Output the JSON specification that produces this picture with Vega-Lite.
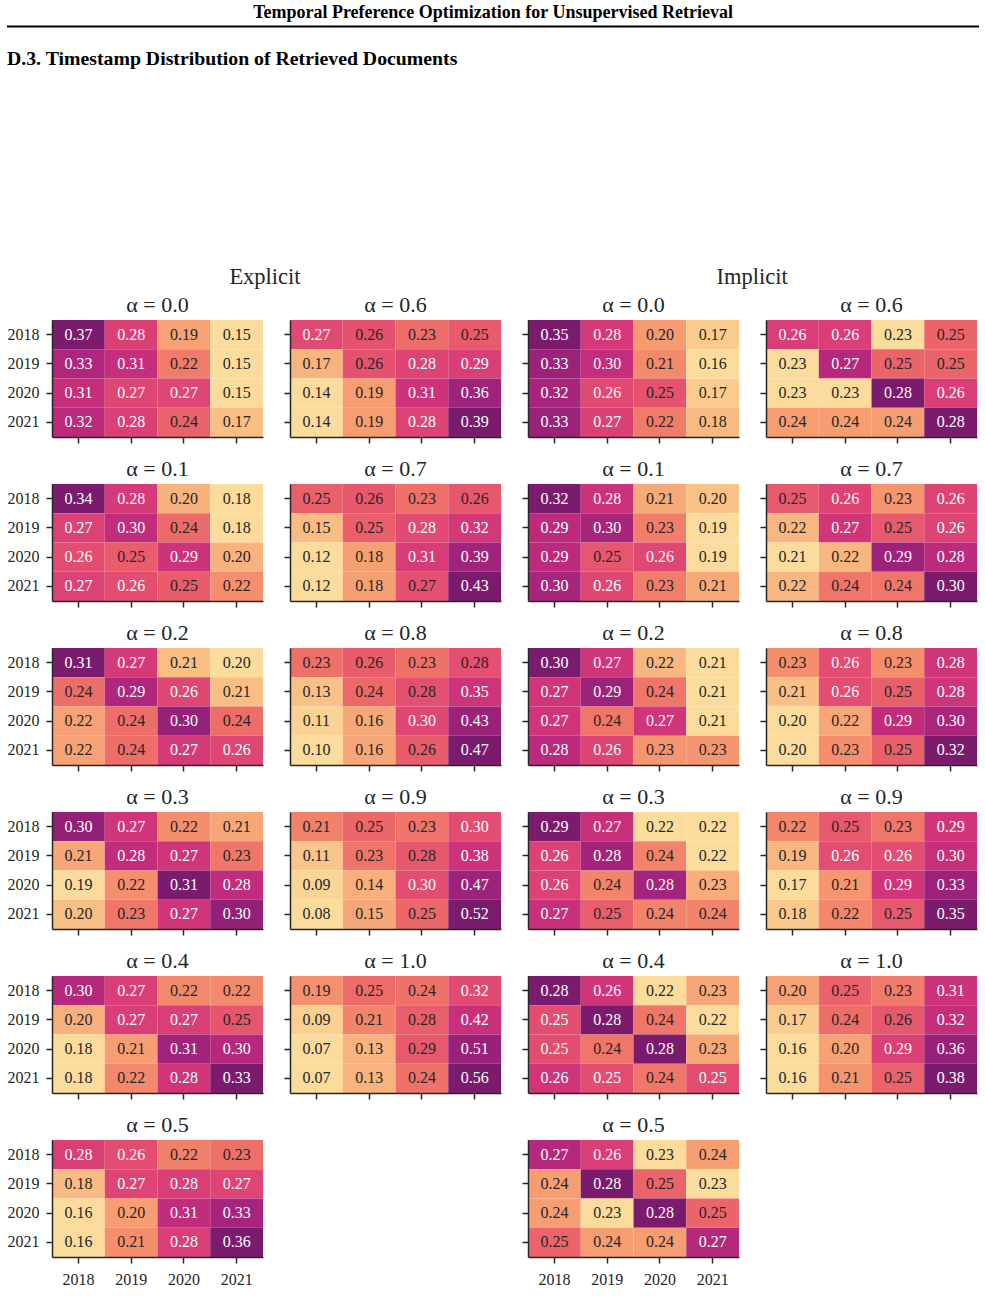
{
  "$schema": "https://vega.github.io/schema/vega-lite/v6.json",
  "padding": {"left": 6, "top": 3, "right": 7, "bottom": 0},
  "datasets": {
    "cells": [
      {"g":"E","a":"0.0","r":2018,"c":2018,"v":0.37},{"g":"E","a":"0.0","r":2018,"c":2019,"v":0.28},{"g":"E","a":"0.0","r":2018,"c":2020,"v":0.19},{"g":"E","a":"0.0","r":2018,"c":2021,"v":0.15},
      {"g":"E","a":"0.0","r":2019,"c":2018,"v":0.33},{"g":"E","a":"0.0","r":2019,"c":2019,"v":0.31},{"g":"E","a":"0.0","r":2019,"c":2020,"v":0.22},{"g":"E","a":"0.0","r":2019,"c":2021,"v":0.15},
      {"g":"E","a":"0.0","r":2020,"c":2018,"v":0.31},{"g":"E","a":"0.0","r":2020,"c":2019,"v":0.27},{"g":"E","a":"0.0","r":2020,"c":2020,"v":0.27},{"g":"E","a":"0.0","r":2020,"c":2021,"v":0.15},
      {"g":"E","a":"0.0","r":2021,"c":2018,"v":0.32},{"g":"E","a":"0.0","r":2021,"c":2019,"v":0.28},{"g":"E","a":"0.0","r":2021,"c":2020,"v":0.24},{"g":"E","a":"0.0","r":2021,"c":2021,"v":0.17},

      {"g":"E","a":"0.1","r":2018,"c":2018,"v":0.34},{"g":"E","a":"0.1","r":2018,"c":2019,"v":0.28},{"g":"E","a":"0.1","r":2018,"c":2020,"v":0.20},{"g":"E","a":"0.1","r":2018,"c":2021,"v":0.18},
      {"g":"E","a":"0.1","r":2019,"c":2018,"v":0.27},{"g":"E","a":"0.1","r":2019,"c":2019,"v":0.30},{"g":"E","a":"0.1","r":2019,"c":2020,"v":0.24},{"g":"E","a":"0.1","r":2019,"c":2021,"v":0.18},
      {"g":"E","a":"0.1","r":2020,"c":2018,"v":0.26},{"g":"E","a":"0.1","r":2020,"c":2019,"v":0.25},{"g":"E","a":"0.1","r":2020,"c":2020,"v":0.29},{"g":"E","a":"0.1","r":2020,"c":2021,"v":0.20},
      {"g":"E","a":"0.1","r":2021,"c":2018,"v":0.27},{"g":"E","a":"0.1","r":2021,"c":2019,"v":0.26},{"g":"E","a":"0.1","r":2021,"c":2020,"v":0.25},{"g":"E","a":"0.1","r":2021,"c":2021,"v":0.22},

      {"g":"E","a":"0.2","r":2018,"c":2018,"v":0.31},{"g":"E","a":"0.2","r":2018,"c":2019,"v":0.27},{"g":"E","a":"0.2","r":2018,"c":2020,"v":0.21},{"g":"E","a":"0.2","r":2018,"c":2021,"v":0.20},
      {"g":"E","a":"0.2","r":2019,"c":2018,"v":0.24},{"g":"E","a":"0.2","r":2019,"c":2019,"v":0.29},{"g":"E","a":"0.2","r":2019,"c":2020,"v":0.26},{"g":"E","a":"0.2","r":2019,"c":2021,"v":0.21},
      {"g":"E","a":"0.2","r":2020,"c":2018,"v":0.22},{"g":"E","a":"0.2","r":2020,"c":2019,"v":0.24},{"g":"E","a":"0.2","r":2020,"c":2020,"v":0.30},{"g":"E","a":"0.2","r":2020,"c":2021,"v":0.24},
      {"g":"E","a":"0.2","r":2021,"c":2018,"v":0.22},{"g":"E","a":"0.2","r":2021,"c":2019,"v":0.24},{"g":"E","a":"0.2","r":2021,"c":2020,"v":0.27},{"g":"E","a":"0.2","r":2021,"c":2021,"v":0.26},

      {"g":"E","a":"0.3","r":2018,"c":2018,"v":0.30},{"g":"E","a":"0.3","r":2018,"c":2019,"v":0.27},{"g":"E","a":"0.3","r":2018,"c":2020,"v":0.22},{"g":"E","a":"0.3","r":2018,"c":2021,"v":0.21},
      {"g":"E","a":"0.3","r":2019,"c":2018,"v":0.21},{"g":"E","a":"0.3","r":2019,"c":2019,"v":0.28},{"g":"E","a":"0.3","r":2019,"c":2020,"v":0.27},{"g":"E","a":"0.3","r":2019,"c":2021,"v":0.23},
      {"g":"E","a":"0.3","r":2020,"c":2018,"v":0.19},{"g":"E","a":"0.3","r":2020,"c":2019,"v":0.22},{"g":"E","a":"0.3","r":2020,"c":2020,"v":0.31},{"g":"E","a":"0.3","r":2020,"c":2021,"v":0.28},
      {"g":"E","a":"0.3","r":2021,"c":2018,"v":0.20},{"g":"E","a":"0.3","r":2021,"c":2019,"v":0.23},{"g":"E","a":"0.3","r":2021,"c":2020,"v":0.27},{"g":"E","a":"0.3","r":2021,"c":2021,"v":0.30},

      {"g":"E","a":"0.4","r":2018,"c":2018,"v":0.30},{"g":"E","a":"0.4","r":2018,"c":2019,"v":0.27},{"g":"E","a":"0.4","r":2018,"c":2020,"v":0.22},{"g":"E","a":"0.4","r":2018,"c":2021,"v":0.22},
      {"g":"E","a":"0.4","r":2019,"c":2018,"v":0.20},{"g":"E","a":"0.4","r":2019,"c":2019,"v":0.27},{"g":"E","a":"0.4","r":2019,"c":2020,"v":0.27},{"g":"E","a":"0.4","r":2019,"c":2021,"v":0.25},
      {"g":"E","a":"0.4","r":2020,"c":2018,"v":0.18},{"g":"E","a":"0.4","r":2020,"c":2019,"v":0.21},{"g":"E","a":"0.4","r":2020,"c":2020,"v":0.31},{"g":"E","a":"0.4","r":2020,"c":2021,"v":0.30},
      {"g":"E","a":"0.4","r":2021,"c":2018,"v":0.18},{"g":"E","a":"0.4","r":2021,"c":2019,"v":0.22},{"g":"E","a":"0.4","r":2021,"c":2020,"v":0.28},{"g":"E","a":"0.4","r":2021,"c":2021,"v":0.33},

      {"g":"E","a":"0.5","r":2018,"c":2018,"v":0.28},{"g":"E","a":"0.5","r":2018,"c":2019,"v":0.26},{"g":"E","a":"0.5","r":2018,"c":2020,"v":0.22},{"g":"E","a":"0.5","r":2018,"c":2021,"v":0.23},
      {"g":"E","a":"0.5","r":2019,"c":2018,"v":0.18},{"g":"E","a":"0.5","r":2019,"c":2019,"v":0.27},{"g":"E","a":"0.5","r":2019,"c":2020,"v":0.28},{"g":"E","a":"0.5","r":2019,"c":2021,"v":0.27},
      {"g":"E","a":"0.5","r":2020,"c":2018,"v":0.16},{"g":"E","a":"0.5","r":2020,"c":2019,"v":0.20},{"g":"E","a":"0.5","r":2020,"c":2020,"v":0.31},{"g":"E","a":"0.5","r":2020,"c":2021,"v":0.33},
      {"g":"E","a":"0.5","r":2021,"c":2018,"v":0.16},{"g":"E","a":"0.5","r":2021,"c":2019,"v":0.21},{"g":"E","a":"0.5","r":2021,"c":2020,"v":0.28},{"g":"E","a":"0.5","r":2021,"c":2021,"v":0.36},

      {"g":"E","a":"0.6","r":2018,"c":2018,"v":0.27},{"g":"E","a":"0.6","r":2018,"c":2019,"v":0.26},{"g":"E","a":"0.6","r":2018,"c":2020,"v":0.23},{"g":"E","a":"0.6","r":2018,"c":2021,"v":0.25},
      {"g":"E","a":"0.6","r":2019,"c":2018,"v":0.17},{"g":"E","a":"0.6","r":2019,"c":2019,"v":0.26},{"g":"E","a":"0.6","r":2019,"c":2020,"v":0.28},{"g":"E","a":"0.6","r":2019,"c":2021,"v":0.29},
      {"g":"E","a":"0.6","r":2020,"c":2018,"v":0.14},{"g":"E","a":"0.6","r":2020,"c":2019,"v":0.19},{"g":"E","a":"0.6","r":2020,"c":2020,"v":0.31},{"g":"E","a":"0.6","r":2020,"c":2021,"v":0.36},
      {"g":"E","a":"0.6","r":2021,"c":2018,"v":0.14},{"g":"E","a":"0.6","r":2021,"c":2019,"v":0.19},{"g":"E","a":"0.6","r":2021,"c":2020,"v":0.28},{"g":"E","a":"0.6","r":2021,"c":2021,"v":0.39},

      {"g":"E","a":"0.7","r":2018,"c":2018,"v":0.25},{"g":"E","a":"0.7","r":2018,"c":2019,"v":0.26},{"g":"E","a":"0.7","r":2018,"c":2020,"v":0.23},{"g":"E","a":"0.7","r":2018,"c":2021,"v":0.26},
      {"g":"E","a":"0.7","r":2019,"c":2018,"v":0.15},{"g":"E","a":"0.7","r":2019,"c":2019,"v":0.25},{"g":"E","a":"0.7","r":2019,"c":2020,"v":0.28},{"g":"E","a":"0.7","r":2019,"c":2021,"v":0.32},
      {"g":"E","a":"0.7","r":2020,"c":2018,"v":0.12},{"g":"E","a":"0.7","r":2020,"c":2019,"v":0.18},{"g":"E","a":"0.7","r":2020,"c":2020,"v":0.31},{"g":"E","a":"0.7","r":2020,"c":2021,"v":0.39},
      {"g":"E","a":"0.7","r":2021,"c":2018,"v":0.12},{"g":"E","a":"0.7","r":2021,"c":2019,"v":0.18},{"g":"E","a":"0.7","r":2021,"c":2020,"v":0.27},{"g":"E","a":"0.7","r":2021,"c":2021,"v":0.43},

      {"g":"E","a":"0.8","r":2018,"c":2018,"v":0.23},{"g":"E","a":"0.8","r":2018,"c":2019,"v":0.26},{"g":"E","a":"0.8","r":2018,"c":2020,"v":0.23},{"g":"E","a":"0.8","r":2018,"c":2021,"v":0.28},
      {"g":"E","a":"0.8","r":2019,"c":2018,"v":0.13},{"g":"E","a":"0.8","r":2019,"c":2019,"v":0.24},{"g":"E","a":"0.8","r":2019,"c":2020,"v":0.28},{"g":"E","a":"0.8","r":2019,"c":2021,"v":0.35},
      {"g":"E","a":"0.8","r":2020,"c":2018,"v":0.11},{"g":"E","a":"0.8","r":2020,"c":2019,"v":0.16},{"g":"E","a":"0.8","r":2020,"c":2020,"v":0.30},{"g":"E","a":"0.8","r":2020,"c":2021,"v":0.43},
      {"g":"E","a":"0.8","r":2021,"c":2018,"v":0.10},{"g":"E","a":"0.8","r":2021,"c":2019,"v":0.16},{"g":"E","a":"0.8","r":2021,"c":2020,"v":0.26},{"g":"E","a":"0.8","r":2021,"c":2021,"v":0.47},

      {"g":"E","a":"0.9","r":2018,"c":2018,"v":0.21},{"g":"E","a":"0.9","r":2018,"c":2019,"v":0.25},{"g":"E","a":"0.9","r":2018,"c":2020,"v":0.23},{"g":"E","a":"0.9","r":2018,"c":2021,"v":0.30},
      {"g":"E","a":"0.9","r":2019,"c":2018,"v":0.11},{"g":"E","a":"0.9","r":2019,"c":2019,"v":0.23},{"g":"E","a":"0.9","r":2019,"c":2020,"v":0.28},{"g":"E","a":"0.9","r":2019,"c":2021,"v":0.38},
      {"g":"E","a":"0.9","r":2020,"c":2018,"v":0.09},{"g":"E","a":"0.9","r":2020,"c":2019,"v":0.14},{"g":"E","a":"0.9","r":2020,"c":2020,"v":0.30},{"g":"E","a":"0.9","r":2020,"c":2021,"v":0.47},
      {"g":"E","a":"0.9","r":2021,"c":2018,"v":0.08},{"g":"E","a":"0.9","r":2021,"c":2019,"v":0.15},{"g":"E","a":"0.9","r":2021,"c":2020,"v":0.25},{"g":"E","a":"0.9","r":2021,"c":2021,"v":0.52},

      {"g":"E","a":"1.0","r":2018,"c":2018,"v":0.19},{"g":"E","a":"1.0","r":2018,"c":2019,"v":0.25},{"g":"E","a":"1.0","r":2018,"c":2020,"v":0.24},{"g":"E","a":"1.0","r":2018,"c":2021,"v":0.32},
      {"g":"E","a":"1.0","r":2019,"c":2018,"v":0.09},{"g":"E","a":"1.0","r":2019,"c":2019,"v":0.21},{"g":"E","a":"1.0","r":2019,"c":2020,"v":0.28},{"g":"E","a":"1.0","r":2019,"c":2021,"v":0.42},
      {"g":"E","a":"1.0","r":2020,"c":2018,"v":0.07},{"g":"E","a":"1.0","r":2020,"c":2019,"v":0.13},{"g":"E","a":"1.0","r":2020,"c":2020,"v":0.29},{"g":"E","a":"1.0","r":2020,"c":2021,"v":0.51},
      {"g":"E","a":"1.0","r":2021,"c":2018,"v":0.07},{"g":"E","a":"1.0","r":2021,"c":2019,"v":0.13},{"g":"E","a":"1.0","r":2021,"c":2020,"v":0.24},{"g":"E","a":"1.0","r":2021,"c":2021,"v":0.56},

      {"g":"I","a":"0.0","r":2018,"c":2018,"v":0.35},{"g":"I","a":"0.0","r":2018,"c":2019,"v":0.28},{"g":"I","a":"0.0","r":2018,"c":2020,"v":0.20},{"g":"I","a":"0.0","r":2018,"c":2021,"v":0.17},
      {"g":"I","a":"0.0","r":2019,"c":2018,"v":0.33},{"g":"I","a":"0.0","r":2019,"c":2019,"v":0.30},{"g":"I","a":"0.0","r":2019,"c":2020,"v":0.21},{"g":"I","a":"0.0","r":2019,"c":2021,"v":0.16},
      {"g":"I","a":"0.0","r":2020,"c":2018,"v":0.32},{"g":"I","a":"0.0","r":2020,"c":2019,"v":0.26},{"g":"I","a":"0.0","r":2020,"c":2020,"v":0.25},{"g":"I","a":"0.0","r":2020,"c":2021,"v":0.17},
      {"g":"I","a":"0.0","r":2021,"c":2018,"v":0.33},{"g":"I","a":"0.0","r":2021,"c":2019,"v":0.27},{"g":"I","a":"0.0","r":2021,"c":2020,"v":0.22},{"g":"I","a":"0.0","r":2021,"c":2021,"v":0.18},

      {"g":"I","a":"0.1","r":2018,"c":2018,"v":0.32},{"g":"I","a":"0.1","r":2018,"c":2019,"v":0.28},{"g":"I","a":"0.1","r":2018,"c":2020,"v":0.21},{"g":"I","a":"0.1","r":2018,"c":2021,"v":0.20},
      {"g":"I","a":"0.1","r":2019,"c":2018,"v":0.29},{"g":"I","a":"0.1","r":2019,"c":2019,"v":0.30},{"g":"I","a":"0.1","r":2019,"c":2020,"v":0.23},{"g":"I","a":"0.1","r":2019,"c":2021,"v":0.19},
      {"g":"I","a":"0.1","r":2020,"c":2018,"v":0.29},{"g":"I","a":"0.1","r":2020,"c":2019,"v":0.25},{"g":"I","a":"0.1","r":2020,"c":2020,"v":0.26},{"g":"I","a":"0.1","r":2020,"c":2021,"v":0.19},
      {"g":"I","a":"0.1","r":2021,"c":2018,"v":0.30},{"g":"I","a":"0.1","r":2021,"c":2019,"v":0.26},{"g":"I","a":"0.1","r":2021,"c":2020,"v":0.23},{"g":"I","a":"0.1","r":2021,"c":2021,"v":0.21},

      {"g":"I","a":"0.2","r":2018,"c":2018,"v":0.30},{"g":"I","a":"0.2","r":2018,"c":2019,"v":0.27},{"g":"I","a":"0.2","r":2018,"c":2020,"v":0.22},{"g":"I","a":"0.2","r":2018,"c":2021,"v":0.21},
      {"g":"I","a":"0.2","r":2019,"c":2018,"v":0.27},{"g":"I","a":"0.2","r":2019,"c":2019,"v":0.29},{"g":"I","a":"0.2","r":2019,"c":2020,"v":0.24},{"g":"I","a":"0.2","r":2019,"c":2021,"v":0.21},
      {"g":"I","a":"0.2","r":2020,"c":2018,"v":0.27},{"g":"I","a":"0.2","r":2020,"c":2019,"v":0.24},{"g":"I","a":"0.2","r":2020,"c":2020,"v":0.27},{"g":"I","a":"0.2","r":2020,"c":2021,"v":0.21},
      {"g":"I","a":"0.2","r":2021,"c":2018,"v":0.28},{"g":"I","a":"0.2","r":2021,"c":2019,"v":0.26},{"g":"I","a":"0.2","r":2021,"c":2020,"v":0.23},{"g":"I","a":"0.2","r":2021,"c":2021,"v":0.23},

      {"g":"I","a":"0.3","r":2018,"c":2018,"v":0.29},{"g":"I","a":"0.3","r":2018,"c":2019,"v":0.27},{"g":"I","a":"0.3","r":2018,"c":2020,"v":0.22},{"g":"I","a":"0.3","r":2018,"c":2021,"v":0.22},
      {"g":"I","a":"0.3","r":2019,"c":2018,"v":0.26},{"g":"I","a":"0.3","r":2019,"c":2019,"v":0.28},{"g":"I","a":"0.3","r":2019,"c":2020,"v":0.24},{"g":"I","a":"0.3","r":2019,"c":2021,"v":0.22},
      {"g":"I","a":"0.3","r":2020,"c":2018,"v":0.26},{"g":"I","a":"0.3","r":2020,"c":2019,"v":0.24},{"g":"I","a":"0.3","r":2020,"c":2020,"v":0.28},{"g":"I","a":"0.3","r":2020,"c":2021,"v":0.23},
      {"g":"I","a":"0.3","r":2021,"c":2018,"v":0.27},{"g":"I","a":"0.3","r":2021,"c":2019,"v":0.25},{"g":"I","a":"0.3","r":2021,"c":2020,"v":0.24},{"g":"I","a":"0.3","r":2021,"c":2021,"v":0.24},

      {"g":"I","a":"0.4","r":2018,"c":2018,"v":0.28},{"g":"I","a":"0.4","r":2018,"c":2019,"v":0.26},{"g":"I","a":"0.4","r":2018,"c":2020,"v":0.22},{"g":"I","a":"0.4","r":2018,"c":2021,"v":0.23},
      {"g":"I","a":"0.4","r":2019,"c":2018,"v":0.25},{"g":"I","a":"0.4","r":2019,"c":2019,"v":0.28},{"g":"I","a":"0.4","r":2019,"c":2020,"v":0.24},{"g":"I","a":"0.4","r":2019,"c":2021,"v":0.22},
      {"g":"I","a":"0.4","r":2020,"c":2018,"v":0.25},{"g":"I","a":"0.4","r":2020,"c":2019,"v":0.24},{"g":"I","a":"0.4","r":2020,"c":2020,"v":0.28},{"g":"I","a":"0.4","r":2020,"c":2021,"v":0.23},
      {"g":"I","a":"0.4","r":2021,"c":2018,"v":0.26},{"g":"I","a":"0.4","r":2021,"c":2019,"v":0.25},{"g":"I","a":"0.4","r":2021,"c":2020,"v":0.24},{"g":"I","a":"0.4","r":2021,"c":2021,"v":0.25},

      {"g":"I","a":"0.5","r":2018,"c":2018,"v":0.27},{"g":"I","a":"0.5","r":2018,"c":2019,"v":0.26},{"g":"I","a":"0.5","r":2018,"c":2020,"v":0.23},{"g":"I","a":"0.5","r":2018,"c":2021,"v":0.24},
      {"g":"I","a":"0.5","r":2019,"c":2018,"v":0.24},{"g":"I","a":"0.5","r":2019,"c":2019,"v":0.28},{"g":"I","a":"0.5","r":2019,"c":2020,"v":0.25},{"g":"I","a":"0.5","r":2019,"c":2021,"v":0.23},
      {"g":"I","a":"0.5","r":2020,"c":2018,"v":0.24},{"g":"I","a":"0.5","r":2020,"c":2019,"v":0.23},{"g":"I","a":"0.5","r":2020,"c":2020,"v":0.28},{"g":"I","a":"0.5","r":2020,"c":2021,"v":0.25},
      {"g":"I","a":"0.5","r":2021,"c":2018,"v":0.25},{"g":"I","a":"0.5","r":2021,"c":2019,"v":0.24},{"g":"I","a":"0.5","r":2021,"c":2020,"v":0.24},{"g":"I","a":"0.5","r":2021,"c":2021,"v":0.27},

      {"g":"I","a":"0.6","r":2018,"c":2018,"v":0.26},{"g":"I","a":"0.6","r":2018,"c":2019,"v":0.26},{"g":"I","a":"0.6","r":2018,"c":2020,"v":0.23},{"g":"I","a":"0.6","r":2018,"c":2021,"v":0.25},
      {"g":"I","a":"0.6","r":2019,"c":2018,"v":0.23},{"g":"I","a":"0.6","r":2019,"c":2019,"v":0.27},{"g":"I","a":"0.6","r":2019,"c":2020,"v":0.25},{"g":"I","a":"0.6","r":2019,"c":2021,"v":0.25},
      {"g":"I","a":"0.6","r":2020,"c":2018,"v":0.23},{"g":"I","a":"0.6","r":2020,"c":2019,"v":0.23},{"g":"I","a":"0.6","r":2020,"c":2020,"v":0.28},{"g":"I","a":"0.6","r":2020,"c":2021,"v":0.26},
      {"g":"I","a":"0.6","r":2021,"c":2018,"v":0.24},{"g":"I","a":"0.6","r":2021,"c":2019,"v":0.24},{"g":"I","a":"0.6","r":2021,"c":2020,"v":0.24},{"g":"I","a":"0.6","r":2021,"c":2021,"v":0.28},

      {"g":"I","a":"0.7","r":2018,"c":2018,"v":0.25},{"g":"I","a":"0.7","r":2018,"c":2019,"v":0.26},{"g":"I","a":"0.7","r":2018,"c":2020,"v":0.23},{"g":"I","a":"0.7","r":2018,"c":2021,"v":0.26},
      {"g":"I","a":"0.7","r":2019,"c":2018,"v":0.22},{"g":"I","a":"0.7","r":2019,"c":2019,"v":0.27},{"g":"I","a":"0.7","r":2019,"c":2020,"v":0.25},{"g":"I","a":"0.7","r":2019,"c":2021,"v":0.26},
      {"g":"I","a":"0.7","r":2020,"c":2018,"v":0.21},{"g":"I","a":"0.7","r":2020,"c":2019,"v":0.22},{"g":"I","a":"0.7","r":2020,"c":2020,"v":0.29},{"g":"I","a":"0.7","r":2020,"c":2021,"v":0.28},
      {"g":"I","a":"0.7","r":2021,"c":2018,"v":0.22},{"g":"I","a":"0.7","r":2021,"c":2019,"v":0.24},{"g":"I","a":"0.7","r":2021,"c":2020,"v":0.24},{"g":"I","a":"0.7","r":2021,"c":2021,"v":0.30},

      {"g":"I","a":"0.8","r":2018,"c":2018,"v":0.23},{"g":"I","a":"0.8","r":2018,"c":2019,"v":0.26},{"g":"I","a":"0.8","r":2018,"c":2020,"v":0.23},{"g":"I","a":"0.8","r":2018,"c":2021,"v":0.28},
      {"g":"I","a":"0.8","r":2019,"c":2018,"v":0.21},{"g":"I","a":"0.8","r":2019,"c":2019,"v":0.26},{"g":"I","a":"0.8","r":2019,"c":2020,"v":0.25},{"g":"I","a":"0.8","r":2019,"c":2021,"v":0.28},
      {"g":"I","a":"0.8","r":2020,"c":2018,"v":0.20},{"g":"I","a":"0.8","r":2020,"c":2019,"v":0.22},{"g":"I","a":"0.8","r":2020,"c":2020,"v":0.29},{"g":"I","a":"0.8","r":2020,"c":2021,"v":0.30},
      {"g":"I","a":"0.8","r":2021,"c":2018,"v":0.20},{"g":"I","a":"0.8","r":2021,"c":2019,"v":0.23},{"g":"I","a":"0.8","r":2021,"c":2020,"v":0.25},{"g":"I","a":"0.8","r":2021,"c":2021,"v":0.32},

      {"g":"I","a":"0.9","r":2018,"c":2018,"v":0.22},{"g":"I","a":"0.9","r":2018,"c":2019,"v":0.25},{"g":"I","a":"0.9","r":2018,"c":2020,"v":0.23},{"g":"I","a":"0.9","r":2018,"c":2021,"v":0.29},
      {"g":"I","a":"0.9","r":2019,"c":2018,"v":0.19},{"g":"I","a":"0.9","r":2019,"c":2019,"v":0.26},{"g":"I","a":"0.9","r":2019,"c":2020,"v":0.26},{"g":"I","a":"0.9","r":2019,"c":2021,"v":0.30},
      {"g":"I","a":"0.9","r":2020,"c":2018,"v":0.17},{"g":"I","a":"0.9","r":2020,"c":2019,"v":0.21},{"g":"I","a":"0.9","r":2020,"c":2020,"v":0.29},{"g":"I","a":"0.9","r":2020,"c":2021,"v":0.33},
      {"g":"I","a":"0.9","r":2021,"c":2018,"v":0.18},{"g":"I","a":"0.9","r":2021,"c":2019,"v":0.22},{"g":"I","a":"0.9","r":2021,"c":2020,"v":0.25},{"g":"I","a":"0.9","r":2021,"c":2021,"v":0.35},

      {"g":"I","a":"1.0","r":2018,"c":2018,"v":0.20},{"g":"I","a":"1.0","r":2018,"c":2019,"v":0.25},{"g":"I","a":"1.0","r":2018,"c":2020,"v":0.23},{"g":"I","a":"1.0","r":2018,"c":2021,"v":0.31},
      {"g":"I","a":"1.0","r":2019,"c":2018,"v":0.17},{"g":"I","a":"1.0","r":2019,"c":2019,"v":0.24},{"g":"I","a":"1.0","r":2019,"c":2020,"v":0.26},{"g":"I","a":"1.0","r":2019,"c":2021,"v":0.32},
      {"g":"I","a":"1.0","r":2020,"c":2018,"v":0.16},{"g":"I","a":"1.0","r":2020,"c":2019,"v":0.20},{"g":"I","a":"1.0","r":2020,"c":2020,"v":0.29},{"g":"I","a":"1.0","r":2020,"c":2021,"v":0.36},
      {"g":"I","a":"1.0","r":2021,"c":2018,"v":0.16},{"g":"I","a":"1.0","r":2021,"c":2019,"v":0.21},{"g":"I","a":"1.0","r":2021,"c":2020,"v":0.25},{"g":"I","a":"1.0","r":2021,"c":2021,"v":0.38}
    ]
  },
  "spacing": 20,
  "vconcat": [
    {
      "data": {"values": [{}]},
      "width": 927,
      "height": 1,
      "title": {"text": "Temporal Preference Optimization for Unsupervised Retrieval", "anchor": "middle", "frame": "bounds", "fontSize": 18, "fontWeight": "bold", "color": "#000000", "offset": 4},
      "mark": {"type": "rule", "color": "#000000", "strokeWidth": 2},
      "encoding": {
        "x": {"datum": 0, "type": "quantitative", "scale": {"domain": [0, 1], "range": [-45, 927]}, "axis": null},
        "x2": {"datum": 1}
      }
    },
    {
      "data": {"name": "cells"},
      "transform": [
        {"joinaggregate": [{"op": "min", "field": "v", "as": "lo"}, {"op": "max", "field": "v", "as": "hi"}], "groupby": ["g", "a"]}
      ],
      "title": {"text": "D.3. Timestamp Distribution of Retrieved Documents", "anchor": "start", "frame": "bounds", "fontSize": 19.8, "fontWeight": "bold", "color": "#000000", "offset": 197},
      "spacing": 20,
      "resolve": {"scale": {"color": "independent", "x": "independent", "y": "independent"}},
      "hconcat": [
        {
          "title": {"text": "Explicit", "anchor": "middle", "frame": "bounds", "fontSize": 22.5, "offset": 6, "dx": 11},
          "columns": 2,
          "spacing": {"row": 14, "column": 20},
          "resolve": {"scale": {"color": "independent", "x": "independent", "y": "independent"}},
          "concat": [
            {"title": "α = 0.0", "width": 211, "height": 117, "transform": [{"filter": "datum.g == 'E' && datum.a == '0.0'"}],
             "encoding": {"x": {"field": "c", "type": "ordinal", "title": null}, "y": {"field": "r", "type": "ordinal", "title": null, "axis": {"labels": true}}},
             "layer": [
               {"mark": "rect", "encoding": {"color": {"field": "v", "type": "quantitative", "legend": null}}},
               {"mark": {"type": "text", "font": "Liberation Serif", "fontSize": 16}, "encoding": {"text": {"field": "v", "type": "quantitative", "format": ".2f"}, "color": {"condition": {"test": "(datum.v - datum.lo) / (datum.hi - datum.lo) >= 0.49", "value": "#ffffff"}, "value": "#262626"}}}
             ]},
            {"title": "α = 0.6", "width": 211, "height": 117, "transform": [{"filter": "datum.g == 'E' && datum.a == '0.6'"}],
             "encoding": {"x": {"field": "c", "type": "ordinal", "title": null}, "y": {"field": "r", "type": "ordinal", "title": null}},
             "layer": [
               {"mark": "rect", "encoding": {"color": {"field": "v", "type": "quantitative", "legend": null}}},
               {"mark": {"type": "text", "font": "Liberation Serif", "fontSize": 16}, "encoding": {"text": {"field": "v", "type": "quantitative", "format": ".2f"}, "color": {"condition": {"test": "(datum.v - datum.lo) / (datum.hi - datum.lo) >= 0.49", "value": "#ffffff"}, "value": "#262626"}}}
             ]},
            {"title": "α = 0.1", "width": 211, "height": 117, "transform": [{"filter": "datum.g == 'E' && datum.a == '0.1'"}],
             "encoding": {"x": {"field": "c", "type": "ordinal", "title": null}, "y": {"field": "r", "type": "ordinal", "title": null, "axis": {"labels": true}}},
             "layer": [
               {"mark": "rect", "encoding": {"color": {"field": "v", "type": "quantitative", "legend": null}}},
               {"mark": {"type": "text", "font": "Liberation Serif", "fontSize": 16}, "encoding": {"text": {"field": "v", "type": "quantitative", "format": ".2f"}, "color": {"condition": {"test": "(datum.v - datum.lo) / (datum.hi - datum.lo) >= 0.49", "value": "#ffffff"}, "value": "#262626"}}}
             ]},
            {"title": "α = 0.7", "width": 211, "height": 117, "transform": [{"filter": "datum.g == 'E' && datum.a == '0.7'"}],
             "encoding": {"x": {"field": "c", "type": "ordinal", "title": null}, "y": {"field": "r", "type": "ordinal", "title": null}},
             "layer": [
               {"mark": "rect", "encoding": {"color": {"field": "v", "type": "quantitative", "legend": null}}},
               {"mark": {"type": "text", "font": "Liberation Serif", "fontSize": 16}, "encoding": {"text": {"field": "v", "type": "quantitative", "format": ".2f"}, "color": {"condition": {"test": "(datum.v - datum.lo) / (datum.hi - datum.lo) >= 0.49", "value": "#ffffff"}, "value": "#262626"}}}
             ]},
            {"title": "α = 0.2", "width": 211, "height": 117, "transform": [{"filter": "datum.g == 'E' && datum.a == '0.2'"}],
             "encoding": {"x": {"field": "c", "type": "ordinal", "title": null}, "y": {"field": "r", "type": "ordinal", "title": null, "axis": {"labels": true}}},
             "layer": [
               {"mark": "rect", "encoding": {"color": {"field": "v", "type": "quantitative", "legend": null}}},
               {"mark": {"type": "text", "font": "Liberation Serif", "fontSize": 16}, "encoding": {"text": {"field": "v", "type": "quantitative", "format": ".2f"}, "color": {"condition": {"test": "(datum.v - datum.lo) / (datum.hi - datum.lo) >= 0.49", "value": "#ffffff"}, "value": "#262626"}}}
             ]},
            {"title": "α = 0.8", "width": 211, "height": 117, "transform": [{"filter": "datum.g == 'E' && datum.a == '0.8'"}],
             "encoding": {"x": {"field": "c", "type": "ordinal", "title": null}, "y": {"field": "r", "type": "ordinal", "title": null}},
             "layer": [
               {"mark": "rect", "encoding": {"color": {"field": "v", "type": "quantitative", "legend": null}}},
               {"mark": {"type": "text", "font": "Liberation Serif", "fontSize": 16}, "encoding": {"text": {"field": "v", "type": "quantitative", "format": ".2f"}, "color": {"condition": {"test": "(datum.v - datum.lo) / (datum.hi - datum.lo) >= 0.49", "value": "#ffffff"}, "value": "#262626"}}}
             ]},
            {"title": "α = 0.3", "width": 211, "height": 117, "transform": [{"filter": "datum.g == 'E' && datum.a == '0.3'"}],
             "encoding": {"x": {"field": "c", "type": "ordinal", "title": null}, "y": {"field": "r", "type": "ordinal", "title": null, "axis": {"labels": true}}},
             "layer": [
               {"mark": "rect", "encoding": {"color": {"field": "v", "type": "quantitative", "legend": null}}},
               {"mark": {"type": "text", "font": "Liberation Serif", "fontSize": 16}, "encoding": {"text": {"field": "v", "type": "quantitative", "format": ".2f"}, "color": {"condition": {"test": "(datum.v - datum.lo) / (datum.hi - datum.lo) >= 0.49", "value": "#ffffff"}, "value": "#262626"}}}
             ]},
            {"title": "α = 0.9", "width": 211, "height": 117, "transform": [{"filter": "datum.g == 'E' && datum.a == '0.9'"}],
             "encoding": {"x": {"field": "c", "type": "ordinal", "title": null}, "y": {"field": "r", "type": "ordinal", "title": null}},
             "layer": [
               {"mark": "rect", "encoding": {"color": {"field": "v", "type": "quantitative", "legend": null}}},
               {"mark": {"type": "text", "font": "Liberation Serif", "fontSize": 16}, "encoding": {"text": {"field": "v", "type": "quantitative", "format": ".2f"}, "color": {"condition": {"test": "(datum.v - datum.lo) / (datum.hi - datum.lo) >= 0.49", "value": "#ffffff"}, "value": "#262626"}}}
             ]},
            {"title": "α = 0.4", "width": 211, "height": 117, "transform": [{"filter": "datum.g == 'E' && datum.a == '0.4'"}],
             "encoding": {"x": {"field": "c", "type": "ordinal", "title": null}, "y": {"field": "r", "type": "ordinal", "title": null, "axis": {"labels": true}}},
             "layer": [
               {"mark": "rect", "encoding": {"color": {"field": "v", "type": "quantitative", "legend": null}}},
               {"mark": {"type": "text", "font": "Liberation Serif", "fontSize": 16}, "encoding": {"text": {"field": "v", "type": "quantitative", "format": ".2f"}, "color": {"condition": {"test": "(datum.v - datum.lo) / (datum.hi - datum.lo) >= 0.49", "value": "#ffffff"}, "value": "#262626"}}}
             ]},
            {"title": "α = 1.0", "width": 211, "height": 117, "transform": [{"filter": "datum.g == 'E' && datum.a == '1.0'"}],
             "encoding": {"x": {"field": "c", "type": "ordinal", "title": null}, "y": {"field": "r", "type": "ordinal", "title": null}},
             "layer": [
               {"mark": "rect", "encoding": {"color": {"field": "v", "type": "quantitative", "legend": null}}},
               {"mark": {"type": "text", "font": "Liberation Serif", "fontSize": 16}, "encoding": {"text": {"field": "v", "type": "quantitative", "format": ".2f"}, "color": {"condition": {"test": "(datum.v - datum.lo) / (datum.hi - datum.lo) >= 0.49", "value": "#ffffff"}, "value": "#262626"}}}
             ]},
            {"title": "α = 0.5", "width": 211, "height": 117, "transform": [{"filter": "datum.g == 'E' && datum.a == '0.5'"}],
             "encoding": {"x": {"field": "c", "type": "ordinal", "title": null, "axis": {"labels": true}}, "y": {"field": "r", "type": "ordinal", "title": null, "axis": {"labels": true}}},
             "layer": [
               {"mark": "rect", "encoding": {"color": {"field": "v", "type": "quantitative", "legend": null}}},
               {"mark": {"type": "text", "font": "Liberation Serif", "fontSize": 16}, "encoding": {"text": {"field": "v", "type": "quantitative", "format": ".2f"}, "color": {"condition": {"test": "(datum.v - datum.lo) / (datum.hi - datum.lo) >= 0.49", "value": "#ffffff"}, "value": "#262626"}}}
             ]}
          ]
        },
        {
          "title": {"text": "Implicit", "anchor": "middle", "frame": "bounds", "fontSize": 22.5, "offset": 6, "dx": 3},
          "columns": 2,
          "spacing": {"row": 14, "column": 20},
          "resolve": {"scale": {"color": "independent", "x": "independent", "y": "independent"}},
          "concat": [
            {"title": "α = 0.0", "width": 211, "height": 117, "transform": [{"filter": "datum.g == 'I' && datum.a == '0.0'"}],
             "encoding": {"x": {"field": "c", "type": "ordinal", "title": null}, "y": {"field": "r", "type": "ordinal", "title": null}},
             "layer": [
               {"mark": "rect", "encoding": {"color": {"field": "v", "type": "quantitative", "legend": null}}},
               {"mark": {"type": "text", "font": "Liberation Serif", "fontSize": 16}, "encoding": {"text": {"field": "v", "type": "quantitative", "format": ".2f"}, "color": {"condition": {"test": "(datum.v - datum.lo) / (datum.hi - datum.lo) >= 0.49", "value": "#ffffff"}, "value": "#262626"}}}
             ]},
            {"title": "α = 0.6", "width": 211, "height": 117, "transform": [{"filter": "datum.g == 'I' && datum.a == '0.6'"}],
             "encoding": {"x": {"field": "c", "type": "ordinal", "title": null}, "y": {"field": "r", "type": "ordinal", "title": null}},
             "layer": [
               {"mark": "rect", "encoding": {"color": {"field": "v", "type": "quantitative", "legend": null}}},
               {"mark": {"type": "text", "font": "Liberation Serif", "fontSize": 16}, "encoding": {"text": {"field": "v", "type": "quantitative", "format": ".2f"}, "color": {"condition": {"test": "(datum.v - datum.lo) / (datum.hi - datum.lo) >= 0.49", "value": "#ffffff"}, "value": "#262626"}}}
             ]},
            {"title": "α = 0.1", "width": 211, "height": 117, "transform": [{"filter": "datum.g == 'I' && datum.a == '0.1'"}],
             "encoding": {"x": {"field": "c", "type": "ordinal", "title": null}, "y": {"field": "r", "type": "ordinal", "title": null}},
             "layer": [
               {"mark": "rect", "encoding": {"color": {"field": "v", "type": "quantitative", "legend": null}}},
               {"mark": {"type": "text", "font": "Liberation Serif", "fontSize": 16}, "encoding": {"text": {"field": "v", "type": "quantitative", "format": ".2f"}, "color": {"condition": {"test": "(datum.v - datum.lo) / (datum.hi - datum.lo) >= 0.49", "value": "#ffffff"}, "value": "#262626"}}}
             ]},
            {"title": "α = 0.7", "width": 211, "height": 117, "transform": [{"filter": "datum.g == 'I' && datum.a == '0.7'"}],
             "encoding": {"x": {"field": "c", "type": "ordinal", "title": null}, "y": {"field": "r", "type": "ordinal", "title": null}},
             "layer": [
               {"mark": "rect", "encoding": {"color": {"field": "v", "type": "quantitative", "legend": null}}},
               {"mark": {"type": "text", "font": "Liberation Serif", "fontSize": 16}, "encoding": {"text": {"field": "v", "type": "quantitative", "format": ".2f"}, "color": {"condition": {"test": "(datum.v - datum.lo) / (datum.hi - datum.lo) >= 0.49", "value": "#ffffff"}, "value": "#262626"}}}
             ]},
            {"title": "α = 0.2", "width": 211, "height": 117, "transform": [{"filter": "datum.g == 'I' && datum.a == '0.2'"}],
             "encoding": {"x": {"field": "c", "type": "ordinal", "title": null}, "y": {"field": "r", "type": "ordinal", "title": null}},
             "layer": [
               {"mark": "rect", "encoding": {"color": {"field": "v", "type": "quantitative", "legend": null}}},
               {"mark": {"type": "text", "font": "Liberation Serif", "fontSize": 16}, "encoding": {"text": {"field": "v", "type": "quantitative", "format": ".2f"}, "color": {"condition": {"test": "(datum.v - datum.lo) / (datum.hi - datum.lo) >= 0.49", "value": "#ffffff"}, "value": "#262626"}}}
             ]},
            {"title": "α = 0.8", "width": 211, "height": 117, "transform": [{"filter": "datum.g == 'I' && datum.a == '0.8'"}],
             "encoding": {"x": {"field": "c", "type": "ordinal", "title": null}, "y": {"field": "r", "type": "ordinal", "title": null}},
             "layer": [
               {"mark": "rect", "encoding": {"color": {"field": "v", "type": "quantitative", "legend": null}}},
               {"mark": {"type": "text", "font": "Liberation Serif", "fontSize": 16}, "encoding": {"text": {"field": "v", "type": "quantitative", "format": ".2f"}, "color": {"condition": {"test": "(datum.v - datum.lo) / (datum.hi - datum.lo) >= 0.49", "value": "#ffffff"}, "value": "#262626"}}}
             ]},
            {"title": "α = 0.3", "width": 211, "height": 117, "transform": [{"filter": "datum.g == 'I' && datum.a == '0.3'"}],
             "encoding": {"x": {"field": "c", "type": "ordinal", "title": null}, "y": {"field": "r", "type": "ordinal", "title": null}},
             "layer": [
               {"mark": "rect", "encoding": {"color": {"field": "v", "type": "quantitative", "legend": null}}},
               {"mark": {"type": "text", "font": "Liberation Serif", "fontSize": 16}, "encoding": {"text": {"field": "v", "type": "quantitative", "format": ".2f"}, "color": {"condition": {"test": "(datum.v - datum.lo) / (datum.hi - datum.lo) >= 0.49", "value": "#ffffff"}, "value": "#262626"}}}
             ]},
            {"title": "α = 0.9", "width": 211, "height": 117, "transform": [{"filter": "datum.g == 'I' && datum.a == '0.9'"}],
             "encoding": {"x": {"field": "c", "type": "ordinal", "title": null}, "y": {"field": "r", "type": "ordinal", "title": null}},
             "layer": [
               {"mark": "rect", "encoding": {"color": {"field": "v", "type": "quantitative", "legend": null}}},
               {"mark": {"type": "text", "font": "Liberation Serif", "fontSize": 16}, "encoding": {"text": {"field": "v", "type": "quantitative", "format": ".2f"}, "color": {"condition": {"test": "(datum.v - datum.lo) / (datum.hi - datum.lo) >= 0.49", "value": "#ffffff"}, "value": "#262626"}}}
             ]},
            {"title": "α = 0.4", "width": 211, "height": 117, "transform": [{"filter": "datum.g == 'I' && datum.a == '0.4'"}],
             "encoding": {"x": {"field": "c", "type": "ordinal", "title": null}, "y": {"field": "r", "type": "ordinal", "title": null}},
             "layer": [
               {"mark": "rect", "encoding": {"color": {"field": "v", "type": "quantitative", "legend": null}}},
               {"mark": {"type": "text", "font": "Liberation Serif", "fontSize": 16}, "encoding": {"text": {"field": "v", "type": "quantitative", "format": ".2f"}, "color": {"condition": {"test": "(datum.v - datum.lo) / (datum.hi - datum.lo) >= 0.49", "value": "#ffffff"}, "value": "#262626"}}}
             ]},
            {"title": "α = 1.0", "width": 211, "height": 117, "transform": [{"filter": "datum.g == 'I' && datum.a == '1.0'"}],
             "encoding": {"x": {"field": "c", "type": "ordinal", "title": null}, "y": {"field": "r", "type": "ordinal", "title": null}},
             "layer": [
               {"mark": "rect", "encoding": {"color": {"field": "v", "type": "quantitative", "legend": null}}},
               {"mark": {"type": "text", "font": "Liberation Serif", "fontSize": 16}, "encoding": {"text": {"field": "v", "type": "quantitative", "format": ".2f"}, "color": {"condition": {"test": "(datum.v - datum.lo) / (datum.hi - datum.lo) >= 0.49", "value": "#ffffff"}, "value": "#262626"}}}
             ]},
            {"title": "α = 0.5", "width": 211, "height": 117, "transform": [{"filter": "datum.g == 'I' && datum.a == '0.5'"}],
             "encoding": {"x": {"field": "c", "type": "ordinal", "title": null, "axis": {"labels": true}}, "y": {"field": "r", "type": "ordinal", "title": null}},
             "layer": [
               {"mark": "rect", "encoding": {"color": {"field": "v", "type": "quantitative", "legend": null}}},
               {"mark": {"type": "text", "font": "Liberation Serif", "fontSize": 16}, "encoding": {"text": {"field": "v", "type": "quantitative", "format": ".2f"}, "color": {"condition": {"test": "(datum.v - datum.lo) / (datum.hi - datum.lo) >= 0.49", "value": "#ffffff"}, "value": "#262626"}}}
             ]}
          ]
        }
      ]
    }
  ],
  "config": {
    "font": "Liberation Serif",
    "background": "#ffffff",
    "view": {"stroke": null},
    "range": {"heatmap": ["#fbdc9c", "#f8b27e", "#f48e6d", "#ec6a69", "#e24d71", "#d63a78", "#c22c7c", "#a0237b", "#7a1b6d"]},
    "axis": {"labels": false, "grid": false, "domainColor": "#262626", "domainWidth": 1.5, "tickColor": "#262626", "tickWidth": 1.5, "tickSize": 6, "labelFont": "Liberation Serif", "labelFontSize": 16, "labelColor": "#262626", "labelAngle": 0, "bandPosition": 0.5},
    "axisX": {"labelPadding": 8},
    "axisY": {"labelPadding": 7},
    "title": {"font": "Liberation Serif", "fontSize": 22, "fontWeight": "normal", "color": "#262626", "offset": 3, "frame": "group"},
    "text": {"font": "Liberation Serif", "fontSize": 16},
    "legend": {"disable": true}
  }
}
